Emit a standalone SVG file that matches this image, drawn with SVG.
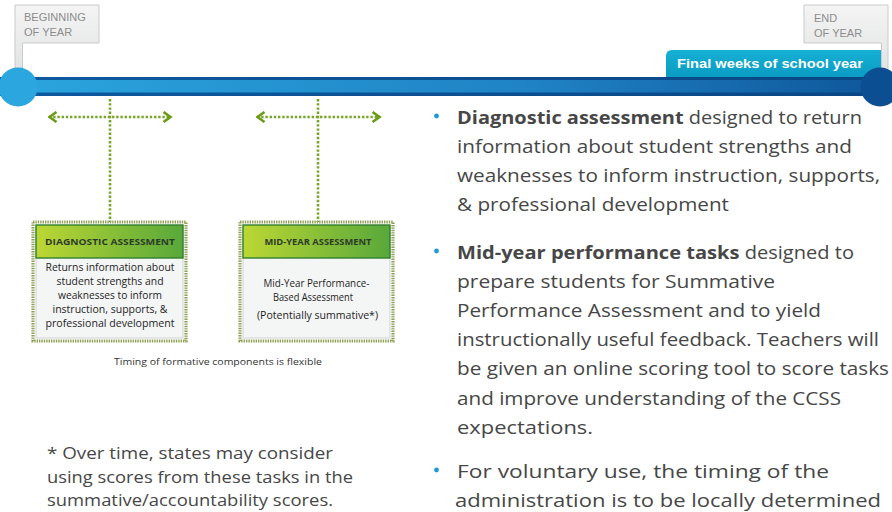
<svg xmlns="http://www.w3.org/2000/svg" width="892" height="512" viewBox="0 0 892 512">
<defs>
<linearGradient id="barG" x1="0" y1="0" x2="1" y2="0">
<stop offset="0" stop-color="#2ba6df"/><stop offset="0.6" stop-color="#1f82c4"/><stop offset="1" stop-color="#0e5599"/>
</linearGradient>
<linearGradient id="barLine" x1="0" y1="0" x2="1" y2="0">
<stop offset="0" stop-color="#0d5aa0"/><stop offset="1" stop-color="#0a4684"/>
</linearGradient>
<linearGradient id="flagG" x1="0" y1="0" x2="0" y2="1">
<stop offset="0" stop-color="#f4f4f4"/><stop offset="1" stop-color="#e2e3e4"/>
</linearGradient>
<linearGradient id="tabG" x1="0" y1="0" x2="0" y2="1">
<stop offset="0" stop-color="#17b0d4"/><stop offset="1" stop-color="#0a9cc3"/>
</linearGradient>
<linearGradient id="hdrG" x1="0" y1="0" x2="1" y2="0">
<stop offset="0" stop-color="#bcd733"/><stop offset="1" stop-color="#58a83b"/>
</linearGradient>
<marker id="chev" viewBox="0 0 10 12" refX="8.5" refY="6" markerWidth="10" markerHeight="12" markerUnits="userSpaceOnUse" orient="auto-start-reverse">
<path d="M1,1 L8,6 L1,11" fill="none" stroke="#6b9b17" stroke-width="2.6"/>
</marker>
<style>
.flagtxt{font-family:"Liberation Sans",Arial,sans-serif;font-size:11px;fill:#8c8c8c}
.dot{fill:none;stroke:#77a628;stroke-width:2.6;stroke-dasharray:2.4 1.8}
.outer{fill:#ffffff;stroke:#8da154;stroke-width:3.2;stroke-dasharray:1.4 1}
.hdr{fill:url(#hdrG);stroke:#2f7f2e;stroke-width:1.4}
.body{fill:#f4f5f5;stroke:#cfd2d2;stroke-width:1}
.hdrtxt{font-family:"Open Sans",sans-serif;font-weight:bold;font-size:9.2px;fill:#2e3b2a;text-anchor:middle}
.btxt{font-family:"Open Sans",sans-serif;font-size:10px;fill:#1e1e1e;text-anchor:middle}
.main{font-family:"Open Sans",sans-serif;font-size:18px;fill:#474747}
.foot{font-family:"Open Sans",sans-serif;font-size:15.5px;fill:#474747}
.bullet{fill:#1f9ad6}
</style>
</defs>
<rect width="892" height="512" fill="#ffffff"/>

<g id="timeline">
<rect x="0" y="77" width="892" height="19" fill="url(#barLine)"/>
<rect x="0" y="80" width="892" height="12.5" fill="url(#barG)"/>
</g>

<g id="final-weeks">
<path d="M666,77 V56 Q666,50 672,50 H881 V77 Z" fill="url(#tabG)"/>
<text x="770" y="67.5" text-anchor="middle" font-family="Liberation Sans,Arial,sans-serif" font-weight="bold" font-size="13" fill="#ffffff" textLength="186" lengthAdjust="spacingAndGlyphs">Final weeks of school year</text>
</g>

<g id="beginning-flag">
<path d="M15,5 H99 V43 H22.5 V70 H15 Z" fill="url(#flagG)" stroke="#c9caca" stroke-width="1"/>
<text class="flagtxt" x="24" y="21">BEGINNING</text>
<text class="flagtxt" x="24" y="36">OF YEAR</text>
<circle cx="18" cy="87" r="19.5" fill="#2ba6df"/>
</g>

<g id="end-flag">
<path d="M804,5 H888 V70 H881.5 V43 H804 Z" fill="url(#flagG)" stroke="#c9caca" stroke-width="1"/>
<text class="flagtxt" x="814" y="22">END</text>
<text class="flagtxt" x="814" y="37">OF YEAR</text>
<circle cx="880" cy="87" r="19.5" fill="#0b4f92"/>
</g>

<g id="connectors">
<line class="dot" x1="110" y1="99" x2="110" y2="222"/>
<line class="dot" x1="318" y1="99" x2="318" y2="222"/>
<line class="dot" x1="49" y1="117" x2="171" y2="117" marker-start="url(#chev)" marker-end="url(#chev)"/>
<line class="dot" x1="257" y1="117" x2="380" y2="117" marker-start="url(#chev)" marker-end="url(#chev)"/>
</g>

<g id="diagnostic-assessment">
<rect class="outer" x="33" y="222" width="153" height="119"/>
<rect class="body" x="36" y="226" width="147" height="112"/>
<rect class="hdr" x="36" y="225" width="147" height="33"/>
<text class="hdrtxt" x="110" y="245" textLength="130" lengthAdjust="spacingAndGlyphs">DIAGNOSTIC ASSESSMENT</text>
<text class="btxt" x="110" y="271" textLength="129" lengthAdjust="spacingAndGlyphs">Returns information about</text>
<text class="btxt" x="110" y="285" textLength="107" lengthAdjust="spacingAndGlyphs">student strengths and</text>
<text class="btxt" x="110" y="299" textLength="104" lengthAdjust="spacingAndGlyphs">weaknesses to inform</text>
<text class="btxt" x="110" y="313" textLength="115" lengthAdjust="spacingAndGlyphs">instruction, supports, &amp;</text>
<text class="btxt" x="110" y="327" textLength="129" lengthAdjust="spacingAndGlyphs">professional development</text>
</g>

<g id="mid-year-assessment">
<rect class="outer" x="240" y="222" width="153" height="119"/>
<rect class="body" x="243" y="226" width="147" height="112"/>
<rect class="hdr" x="243" y="225" width="147" height="33"/>
<text class="hdrtxt" x="318" y="245" textLength="107" lengthAdjust="spacingAndGlyphs">MID-YEAR ASSESSMENT</text>
<text class="btxt" x="316.5" y="287" textLength="106" lengthAdjust="spacingAndGlyphs">Mid-Year Performance-</text>
<text class="btxt" x="313" y="301" textLength="80" lengthAdjust="spacingAndGlyphs">Based Assessment</text>
<text class="btxt" x="317.5" y="319" textLength="121" lengthAdjust="spacingAndGlyphs">(Potentially summative*)</text>
</g>

<g id="caption">
<text x="218" y="364.5" text-anchor="middle" font-family="Open Sans,sans-serif" font-size="9.5" fill="#333333" textLength="208" lengthAdjust="spacingAndGlyphs">Timing of formative components is flexible</text>
</g>

<g id="footnote">
<text class="foot" x="47" y="459" textLength="286" lengthAdjust="spacingAndGlyphs">* Over time, states may consider</text>
<text class="foot" x="47" y="483" textLength="306" lengthAdjust="spacingAndGlyphs">using scores from these tasks in the</text>
<text class="foot" x="47" y="506" textLength="286" lengthAdjust="spacingAndGlyphs">summative/accountability scores.</text>
</g>

<g id="bullets">
<circle class="bullet" cx="436.5" cy="116" r="2.4"/>
<text class="main" x="457" y="123.5" textLength="405" lengthAdjust="spacingAndGlyphs"><tspan font-weight="bold">Diagnostic assessment</tspan> designed to return</text>
<text class="main" x="457" y="152.5" textLength="395" lengthAdjust="spacingAndGlyphs">information about student strengths and</text>
<text class="main" x="457" y="182" textLength="423" lengthAdjust="spacingAndGlyphs">weaknesses to inform instruction, supports,</text>
<text class="main" x="457" y="211" textLength="272" lengthAdjust="spacingAndGlyphs">&amp; professional development</text>

<circle class="bullet" cx="436.5" cy="251" r="2.4"/>
<text class="main" x="457" y="259" textLength="397" lengthAdjust="spacingAndGlyphs"><tspan font-weight="bold">Mid-year performance tasks</tspan> designed to</text>
<text class="main" x="457" y="288" textLength="318" lengthAdjust="spacingAndGlyphs">prepare students for  Summative</text>
<text class="main" x="457" y="317" textLength="364" lengthAdjust="spacingAndGlyphs">Performance Assessment and to yield</text>
<text class="main" x="457" y="346" textLength="422" lengthAdjust="spacingAndGlyphs">instructionally useful feedback. Teachers will</text>
<text class="main" x="457" y="375" textLength="432" lengthAdjust="spacingAndGlyphs">be given an online scoring tool to score tasks</text>
<text class="main" x="457" y="404.5" textLength="384" lengthAdjust="spacingAndGlyphs">and improve understanding of the CCSS</text>
<text class="main" x="457" y="434" textLength="136" lengthAdjust="spacingAndGlyphs">expectations.</text>

<circle class="bullet" cx="436.5" cy="470" r="2.4"/>
<text class="main" x="457" y="478" textLength="372" lengthAdjust="spacingAndGlyphs">For voluntary use, the timing of the</text>
<text class="main" x="455" y="507" textLength="426" lengthAdjust="spacingAndGlyphs">administration is to be locally determined</text>
</g>
</svg>
